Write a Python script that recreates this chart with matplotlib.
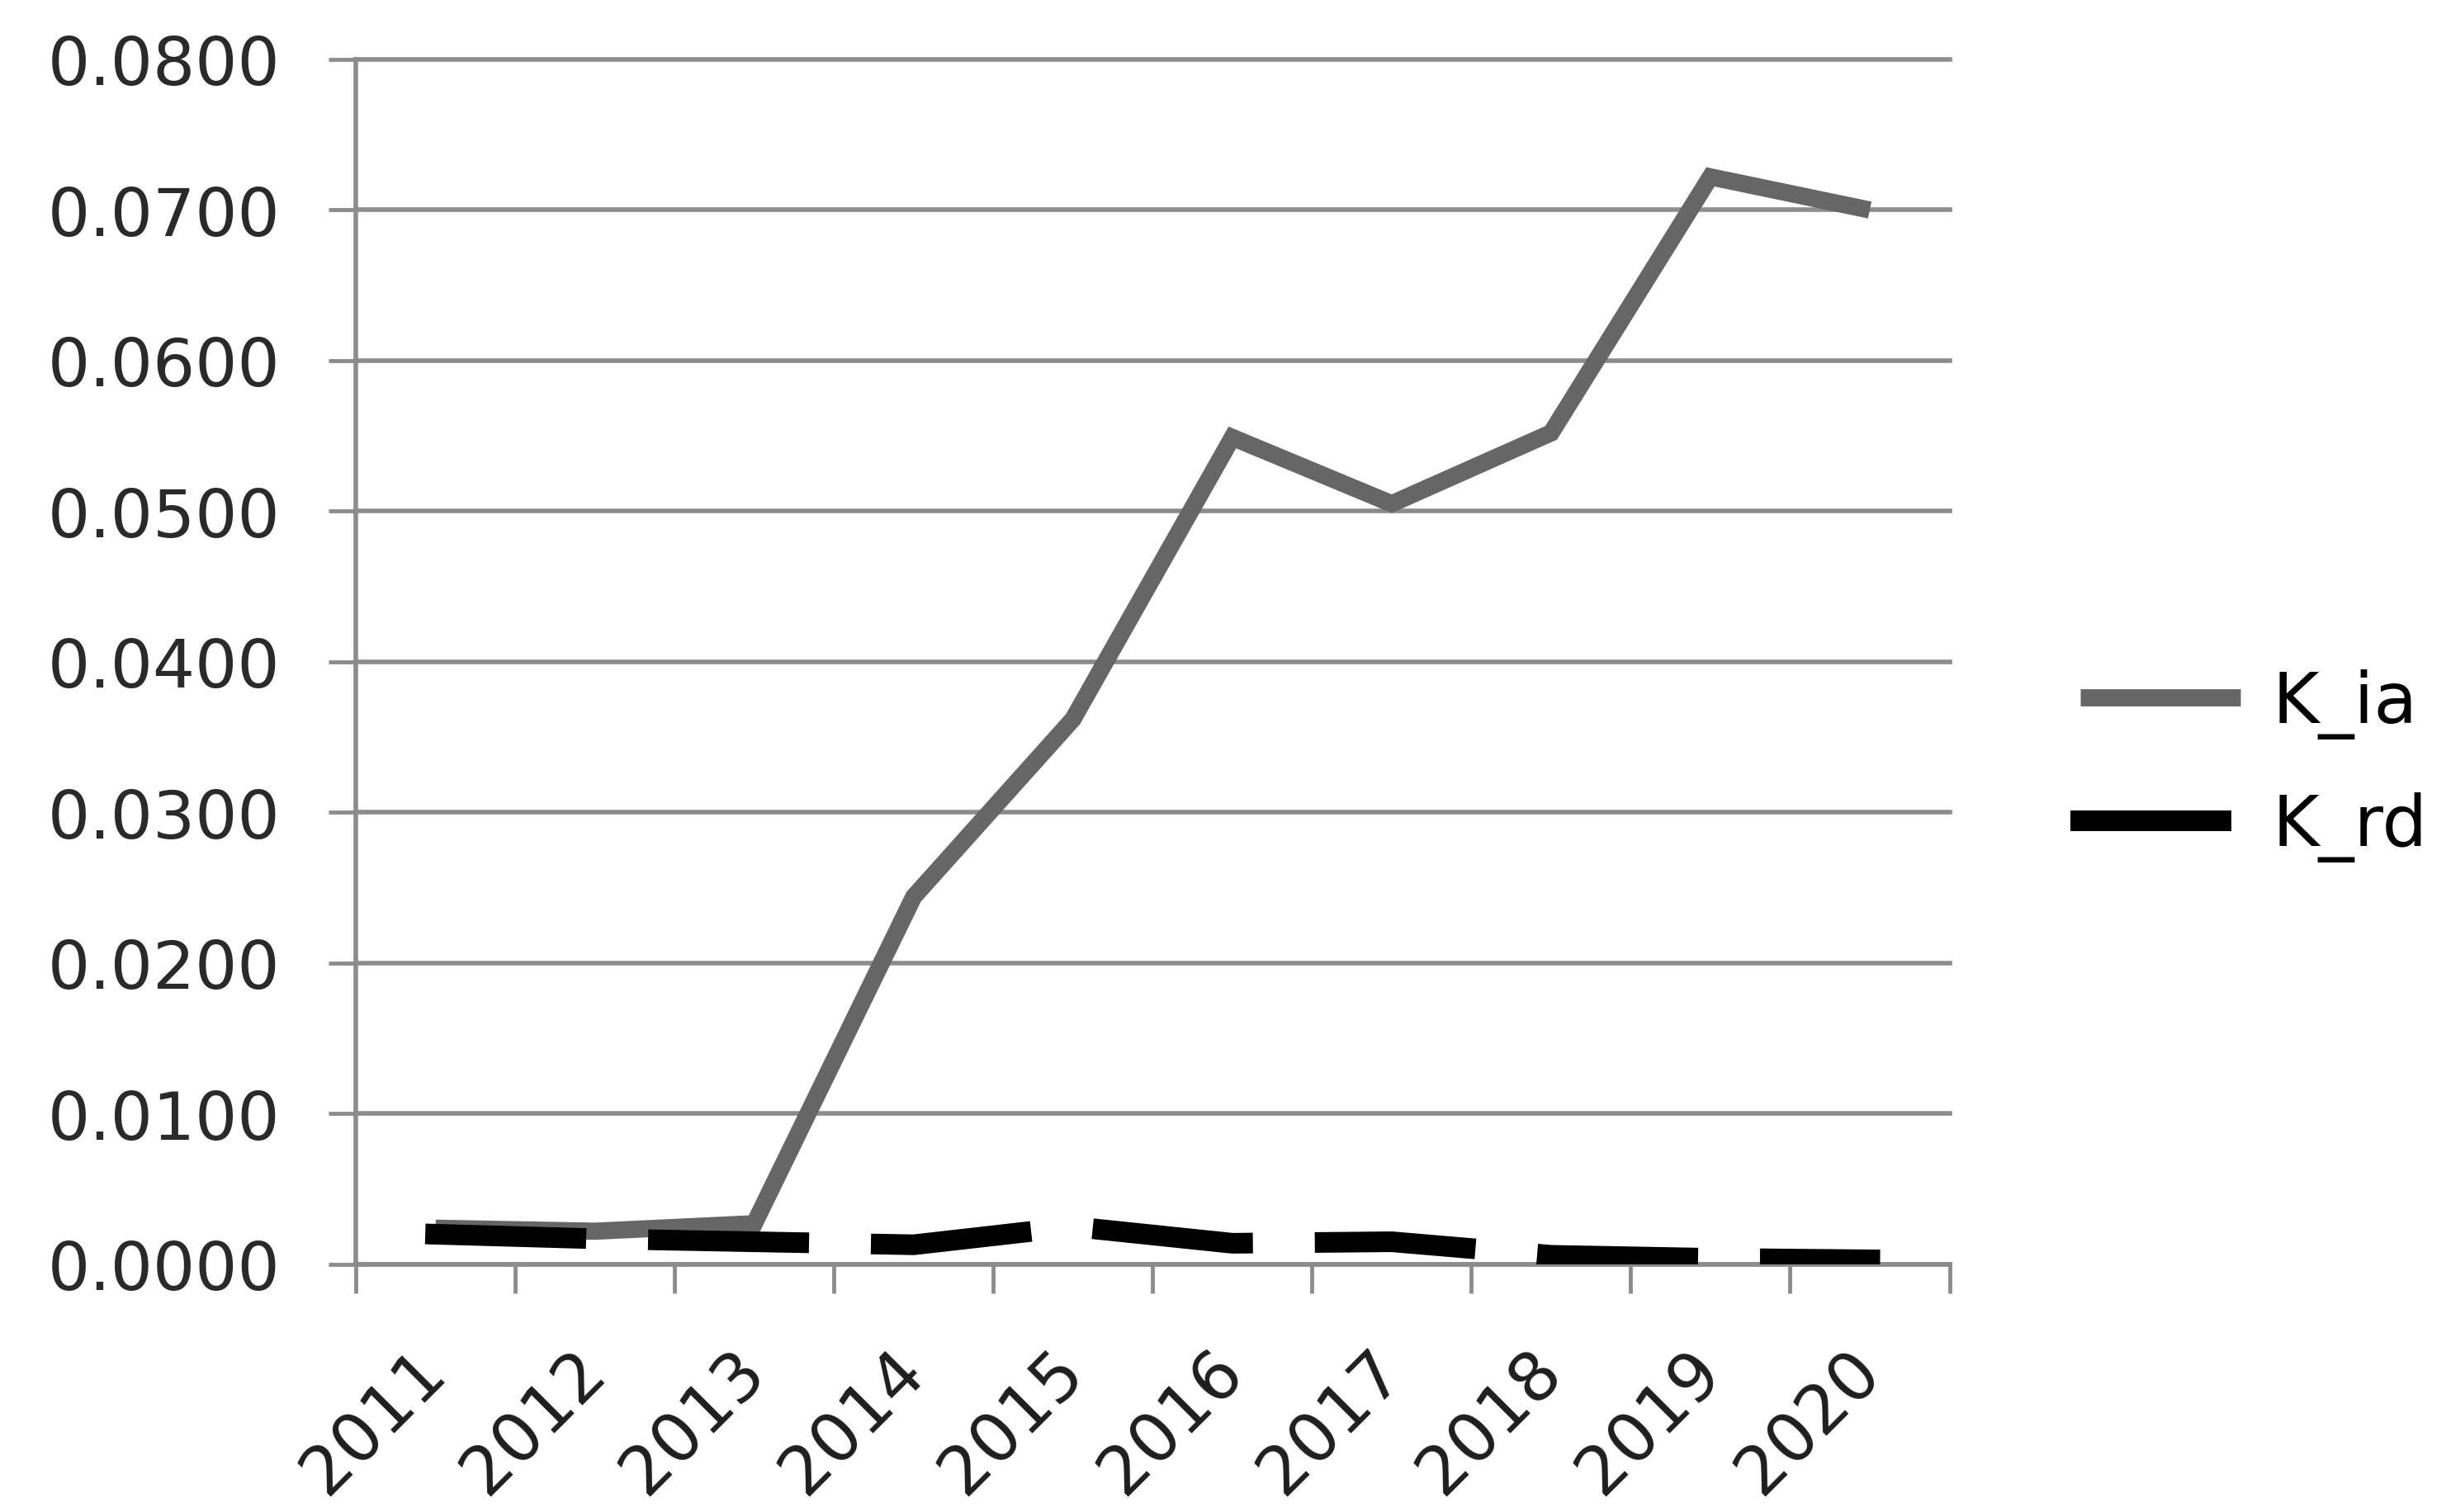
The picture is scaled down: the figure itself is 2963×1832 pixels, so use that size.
import matplotlib
matplotlib.use('Agg')
import matplotlib.pyplot as plt
import numpy as np

years = ['2011', '2012', '2013', '2014', '2015', '2016', '2017', '2018', '2019', '2020']
k_ia = [0.0024, 0.0022, 0.0027, 0.0244, 0.0362, 0.0549, 0.0505, 0.0552, 0.0722, 0.0700]
k_rd = [0.0020, 0.0017, 0.0015, 0.0013, 0.0025, 0.0014, 0.0015, 0.0006, 0.0004, 0.0003]
y_ticks = [0.0, 0.01, 0.02, 0.03, 0.04, 0.05, 0.06, 0.07, 0.08]

plt.rcParams['font.family'] = 'DejaVu Sans'

fig = plt.figure(figsize=(29.63, 18.33), dpi=100)
ax = fig.add_axes([0.1455, 0.1637, 0.6515, 0.7965])

x = np.arange(len(years))
grid_col = '#8c8c8c'

ax.plot(x, k_ia, color='#666666', lw=15, solid_joinstyle='miter', solid_capstyle='butt',
        label='K_ia', zorder=3)
ax.plot(x, k_rd, color='black', lw=18, dashes=(6.8, 4.0), dash_capstyle='projecting',
        label='K_rd', zorder=4)

ax.set_xlim(-0.5, len(years) - 0.5)
ax.set_ylim(0, 0.08)

ax.set_yticks(y_ticks)
ax.set_yticklabels(['%.4f' % v for v in y_ticks])
for v in y_ticks:
    ax.axhline(v, color=grid_col, lw=4, zorder=1, clip_on=False)

ax.set_xticks(x)
ax.set_xticklabels(years, rotation=45, ha='right', va='center', rotation_mode='anchor')
ax.set_xticks(np.arange(-0.5, len(years)), minor=True)

ax.tick_params(axis='x', which='major', length=0, pad=84, labelsize=59, labelcolor='#1e1e1e')
ax.tick_params(axis='x', which='minor', length=25, width=3.5, color=grid_col, direction='out')
ax.tick_params(axis='y', length=24, width=3.5, color=grid_col, direction='out', pad=42,
               labelsize=58, labelcolor='#2a2a2a')

for s in ['top', 'right']:
    ax.spines[s].set_visible(False)
ax.spines['left'].set_color(grid_col)
ax.spines['left'].set_linewidth(4)
ax.spines['bottom'].set_color(grid_col)
ax.spines['bottom'].set_linewidth(4)

leg = fig.legend(loc='center left', bbox_to_anchor=(0.8505, 0.4937), frameon=False,
                 fontsize=62, handlelength=2.25, handletextpad=0.45, labelspacing=0.75,
                 borderpad=0, borderaxespad=0)
for t in leg.get_texts():
    t.set_color('black')

plt.savefig('out.png', dpi=100)
plt.close()
